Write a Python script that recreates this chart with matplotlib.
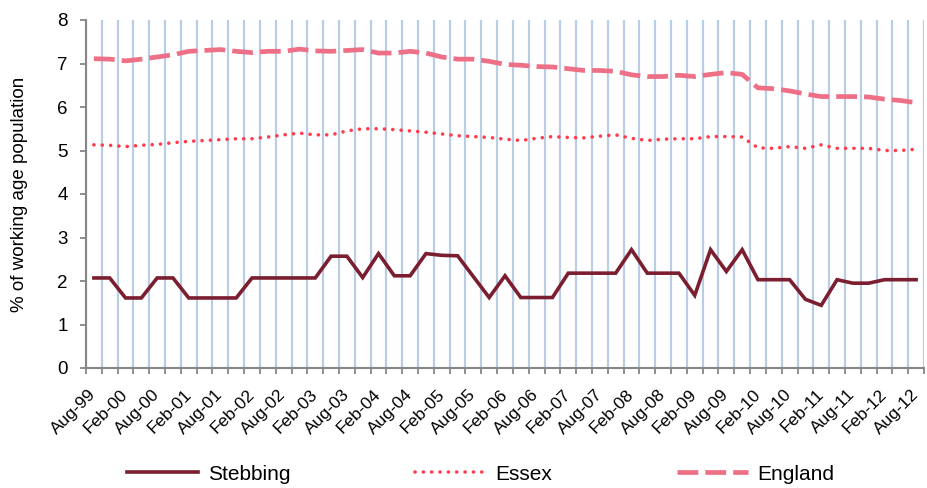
import matplotlib
matplotlib.use("Agg")
import matplotlib.pyplot as plt
import numpy as np

labels = ["Aug-99", "Feb-00", "Aug-00", "Feb-01", "Aug-01", "Feb-02", "Aug-02",
          "Feb-03", "Aug-03", "Feb-04", "Aug-04", "Feb-05", "Aug-05", "Feb-06",
          "Aug-06", "Feb-07", "Aug-07", "Feb-08", "Aug-08", "Feb-09", "Aug-09",
          "Feb-10", "Aug-10", "Feb-11", "Aug-11", "Feb-12", "Aug-12"]

stebbing = [2.07, 2.07, 1.61, 1.61, 2.07, 2.07, 1.61, 1.61, 1.61, 1.61,
            2.07, 2.07, 2.07, 2.07, 2.07, 2.57, 2.57, 2.08, 2.63, 2.12,
            2.12, 2.63, 2.59, 2.58, 2.10, 1.62, 2.12, 1.62, 1.62, 1.62,
            2.18, 2.18, 2.18, 2.18, 2.72, 2.18, 2.18, 2.18, 1.67, 2.72,
            2.22, 2.72, 2.03, 2.03, 2.03, 1.58, 1.44, 2.03, 1.95, 1.95,
            2.03, 2.03, 2.03]

essex = [5.13, 5.12, 5.09, 5.12, 5.14, 5.18, 5.21, 5.23, 5.25, 5.27,
         5.27, 5.31, 5.36, 5.40, 5.36, 5.36, 5.45, 5.50, 5.50, 5.48,
         5.45, 5.42, 5.38, 5.34, 5.32, 5.30, 5.26, 5.23, 5.28, 5.32,
         5.30, 5.29, 5.33, 5.36, 5.28, 5.23, 5.26, 5.27, 5.27, 5.32,
         5.32, 5.31, 5.06, 5.05, 5.09, 5.05, 5.13, 5.05, 5.05, 5.05,
         5.00, 5.00, 5.03]

england = [7.11, 7.10, 7.06, 7.10, 7.15, 7.20, 7.28, 7.30, 7.32, 7.28,
           7.25, 7.28, 7.28, 7.33, 7.29, 7.28, 7.30, 7.32, 7.24, 7.24,
           7.28, 7.24, 7.15, 7.10, 7.10, 7.05, 6.98, 6.96, 6.93, 6.92,
           6.88, 6.84, 6.84, 6.82, 6.74, 6.70, 6.70, 6.73, 6.70, 6.75,
           6.79, 6.75, 6.44, 6.42, 6.37, 6.30, 6.24, 6.24, 6.24, 6.23,
           6.18, 6.15, 6.10]

plt.rcParams['font.family'] = ['Liberation Sans', 'DejaVu Sans']

W, H = 928, 488
fig = plt.figure(figsize=(W / 100, H / 100), dpi=100)
AX_L, AX_R, AX_T, AX_B = 86, 924, 20, 368
ax = fig.add_axes([AX_L / W, 1 - AX_B / H, (AX_R - AX_L) / W, (AX_B - AX_T) / H])

n = len(stebbing)
x = np.arange(n)
axis_col = "#878787"
grid_col = "#B9CDE5"

ax.plot(x, stebbing, color="#7A1E30", lw=2.6, solid_joinstyle="miter", label="Stebbing", zorder=4)
ax.plot(x, essex, color="#FF3B4C", lw=2.6, linestyle=(0, (0.01, 2.3)),
        dash_capstyle="round", label="Essex", zorder=3)
ax.plot(x, england, color="#EE7086", lw=3.4, linestyle=(0, (4.4, 1.5)),
        dash_capstyle="butt", label="England", zorder=3)

ax.set_xlim(-0.5, n - 0.5)
ax.set_ylim(0, 8)
ax.set_yticks(range(0, 9))

# category boundaries: tick marks + gridlines
ax.set_xticks(np.arange(-0.5, n, 1.0), minor=True)
ax.set_xticks(np.arange(0, n, 2))
ax.set_xticklabels(labels, rotation=45, ha="right", va="center",
                   rotation_mode="anchor", fontsize=12.5)
ax.tick_params(axis="x", which="major", length=0, pad=17)
ax.tick_params(axis="x", which="minor", length=4, width=1.3, color=axis_col, direction="out")
ax.tick_params(axis="y", length=4, width=1.3, color=axis_col, labelsize=13.5, pad=9)
ax.grid(which="minor", axis="x", color=grid_col, lw=1.6, zorder=0)
ax.set_axisbelow(True)

for s in ["top", "right"]:
    ax.spines[s].set_visible(False)
for s in ["left", "bottom"]:
    ax.spines[s].set_color(axis_col)
    ax.spines[s].set_linewidth(1.5)

ax.set_ylabel("% of working age population", fontsize=13.5)
ax.yaxis.set_label_coords(-(AX_L - 28) / (AX_R - AX_L), 0.5)

fig.legend(loc="center", bbox_to_anchor=(481 / W, 1 - 474 / H), ncol=3, frameon=False,
           fontsize=15, handlelength=3.4, handletextpad=0.45, columnspacing=6.0)

fig.savefig("out.png", dpi=100)
